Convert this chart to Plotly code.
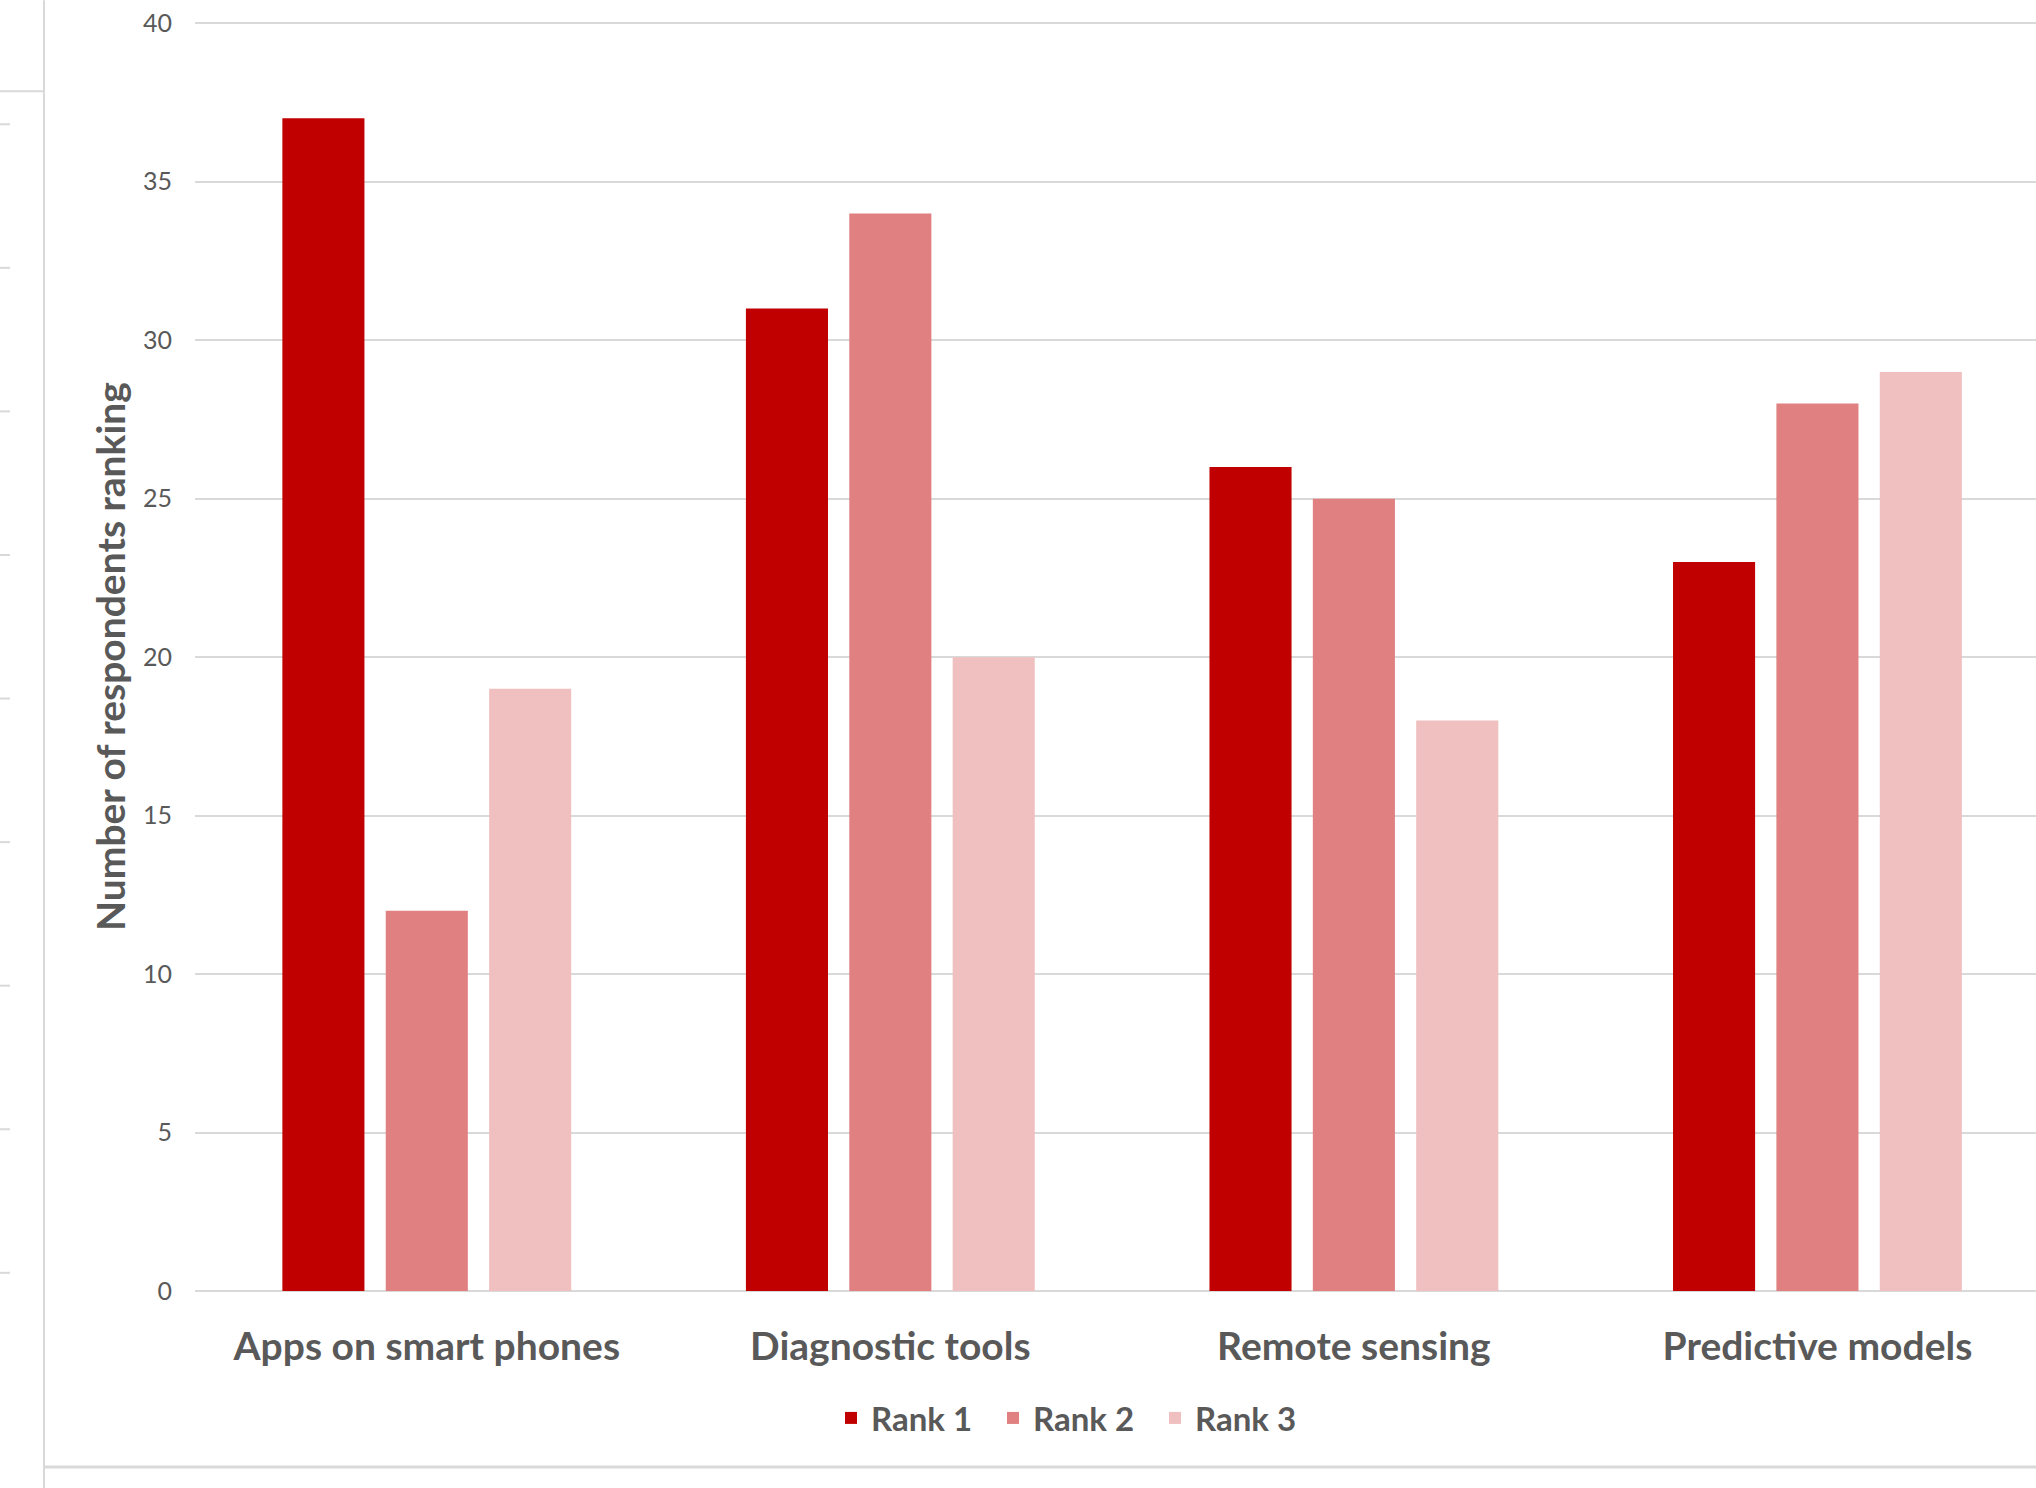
import plotly.graph_objects as go

categories = ["Apps on smart phones", "Diagnostic tools", "Remote sensing", "Predictive models"]
rank1 = [37, 31, 26, 23]
rank2 = [12, 34, 25, 28]
rank3 = [19, 20, 18, 29]
series_names = ["Rank 1", "Rank 2", "Rank 3"]
colors = ["#C00000", "#E08080", "#F0BFBF"]
y_ticks = [0, 5, 10, 15, 20, 25, 30, 35, 40]

W, H = 2036, 1488
L, R, T, B = 195, 0, 21.7, 197
pw, ph = W - L - R, H - T - B


def px(xp):
    return (xp - L) / pw


def py(yp):
    return (H - B - yp) / ph


fig = go.Figure()
for name, vals, col in zip(series_names, [rank1, rank2, rank3], colors):
    fig.add_trace(go.Bar(
        x=categories, y=vals, name=name,
        marker=dict(color=col, line=dict(width=0)),
    ))

grey = "#d9d9d9"
shapes = []
# frame remnants of the surrounding sheet
shapes.append(dict(type="line", xref="paper", yref="paper", x0=px(44), x1=px(44), y0=py(0), y1=py(H),
                   line=dict(color=grey, width=2)))
shapes.append(dict(type="line", xref="paper", yref="paper", x0=px(0), x1=px(44), y0=py(91), y1=py(91),
                   line=dict(color=grey, width=2)))
shapes.append(dict(type="line", xref="paper", yref="paper", x0=px(44), x1=px(W), y0=py(1467), y1=py(1467),
                   line=dict(color=grey, width=3)))
for k in range(9):
    yy = 124 + k * 143.6
    shapes.append(dict(type="line", xref="paper", yref="paper", x0=px(0), x1=px(10), y0=py(yy), y1=py(yy),
                       line=dict(color=grey, width=2)))

fig.update_layout(
    width=W, height=H,
    margin=dict(l=L, r=R, t=T, b=B, pad=0),
    paper_bgcolor="white", plot_bgcolor="white",
    barmode="group", bargap=0.331, bargroupgap=0.206,
    font=dict(family="Lato", color="#595959"),
    showlegend=True,
    legend=dict(orientation="h", x=px(1074), xanchor="center", y=py(1418), yanchor="middle",
                font=dict(family="Lato", size=33, color="#595959", weight="bold"),
                entrywidth=117, entrywidthmode="pixels", tracegroupgap=0),
    shapes=shapes,
)
fig.update_xaxes(
    type="category", range=[-0.5, 3.4715], showgrid=False, showline=False, ticks="",
    tickfont=dict(family="Lato", size=39, color="#595959", weight="bold"),
    ticklabelstandoff=29,
)
fig.update_yaxes(
    range=[0, 40.04], tickvals=y_ticks, showgrid=True, gridcolor=grey, gridwidth=2,
    zeroline=True, zerolinecolor=grey, zerolinewidth=2, showline=False, ticks="",
    tickfont=dict(family="Lato", size=25, color="#595959"),
    ticklabelstandoff=22,
    title=dict(text="Number of respondents ranking", standoff=5,
               font=dict(family="Lato", size=39, color="#595959", weight="bold")),
)

fig.write_html("out.html", config={"displayModeBar": False},
               post_script="document.body.style.margin='0';")
